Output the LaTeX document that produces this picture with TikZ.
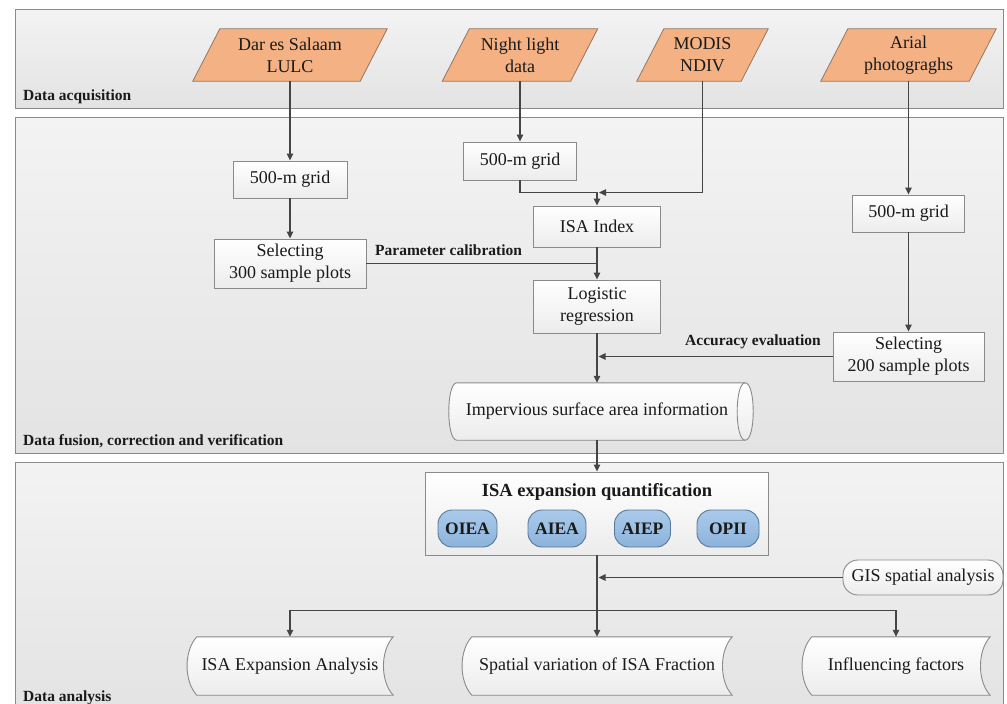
\documentclass[tikz,border=0pt]{standalone}
\usepackage{fontspec}
\setmainfont{Liberation Serif}
\usetikzlibrary{arrows.meta,calc}
\pgfdeclarelayer{bands}\pgfdeclarelayer{shapes}
\pgfsetlayers{bands,shapes,main}
\definecolor{bandtop}{HTML}{F3F3F3}
\definecolor{bandbot}{HTML}{E3E3E3}
\definecolor{bordergray}{HTML}{8A8A8A}
\definecolor{linegray}{HTML}{454545}
\definecolor{orangefill}{HTML}{F4B183}
\definecolor{orangeline}{HTML}{937661}
\definecolor{bluetop}{HTML}{AACAEA}
\definecolor{bluebot}{HTML}{8DB3DB}
\definecolor{blueline}{HTML}{56789A}
\definecolor{boxbot}{HTML}{ECECEC}
\definecolor{inkc}{HTML}{1A1A1A}
\tikzset{
  band/.style={draw=bordergray, line width=1pt, top color=bandtop, bottom color=bandbot},
  bandlabel/.style={font=\fontsize{15.5}{18}\selectfont\bfseries, anchor=west, inner sep=0pt, text=inkc},
  txt/.style={font=\fontsize{18}{22}\selectfont, align=center, text=inkc, inner sep=0pt},
  box/.style={txt, draw=bordergray, line width=0.9pt, top color=white, bottom color=boxbot},
  paranode/.style={txt},
  parashape/.style={draw=orangeline, line width=0.8pt, fill=orangefill},
  softshape/.style={draw=bordergray, line width=0.9pt, top color=white, bottom color=boxbot},
  pill/.style={draw=blueline, line width=0.9pt, top color=bluetop, bottom color=bluebot, rounded corners=14pt,
    font=\fontsize{17.5}{20}\selectfont\bfseries, text=inkc, minimum height=37pt, inner sep=0pt},
  gispill/.style={txt, draw=bordergray, line width=0.9pt, top color=white, bottom color=boxbot, rounded corners=15pt},
  lbl/.style={font=\fontsize{15.5}{18}\selectfont\bfseries, text=inkc, inner sep=0pt},
  ln/.style={draw=linegray, line width=1.1pt},
  arr/.style={ln, -{Triangle[length=7pt,width=6.5pt]}},
}
\newcommand\drawpara[1]{%
  \begin{pgfonlayer}{shapes}
  \draw[parashape] ($(#1.north west)+(13.5,0)$) -- ($(#1.north east)+(13.5,0)$) --
     ($(#1.south east)+(-13.5,0)$) -- ($(#1.south west)+(-13.5,0)$) -- cycle;
  \end{pgfonlayer}}
\newcommand\drawstored[1]{%
  \begin{pgfonlayer}{shapes}
  \draw[softshape] ($(#1.north west)+(5,0)$) -- ($(#1.north east)+(5,0)$)
     .. controls ($(#1.north east)+(-8,14)$) and ($(#1.south east)+(-8,-14)$) .. ($(#1.south east)+(5,0)$)
     -- ($(#1.south west)+(5,0)$)
     .. controls ($(#1.south west)+(-8,-14)$) and ($(#1.north west)+(-8,14)$) .. ($(#1.north west)+(5,0)$) -- cycle;
  \end{pgfonlayer}}
\begin{document}
\begin{tikzpicture}[x=1pt,y=-1pt]
\useasboundingbox (0,0) rectangle (1007,704);
\begin{pgfonlayer}{bands}
  \draw[band] (15,9) rectangle (1003,108);
  \draw[band] (15,117) rectangle (1003,453);
  \draw[band] (15,462) rectangle (1003,712);
\end{pgfonlayer}
\node[bandlabel] (l1) at (23,97) {Data acquisition};
\node[bandlabel] (l2) at (23,441) {Data fusion, correction and verification};
\node[bandlabel] (l3) at (23,698) {Data analysis};

% inputs
\node[paranode, minimum width=167pt, minimum height=52pt] (dar) at (290,55) {Dar es Salaam\\LULC};
\node[paranode, minimum width=128pt, minimum height=52pt] (night) at (520,55) {Night light\\data};
\node[paranode, minimum width=104pt, minimum height=52pt] (modis) at (702.5,55) {MODIS\\NDIV};
\node[paranode, minimum width=148pt, minimum height=52pt] (arial) at (908.5,55) {Arial\\photograghs};
\drawpara{dar}\drawpara{night}\drawpara{modis}\drawpara{arial}

% fusion band
\node[box, minimum width=114pt, minimum height=37pt] (g1) at (290,179.5) {500-m grid};
\node[box, minimum width=152pt, minimum height=49pt] (s300) at (290,263.5) {Selecting\\300 sample plots};
\node[box, minimum width=113pt, minimum height=38pt] (g2) at (520,161) {500-m grid};
\node[box, minimum width=127pt, minimum height=41pt] (isa) at (597,226.5) {ISA Index};
\node[box, minimum width=127pt, minimum height=53pt] (logit) at (597,306.5) {Logistic\\regression};
\node[box, minimum width=112pt, minimum height=37pt] (g3) at (908.5,213.5) {500-m grid};
\node[box, minimum width=151pt, minimum height=49pt] (s200) at (908.5,356.5) {Selecting\\200 sample plots};

\node[txt, minimum width=296pt, minimum height=57pt] (imp) at (597,411.5) {Impervious surface area information};
\begin{pgfonlayer}{shapes}
  \draw[softshape] ($(imp.north west)+(8,0)$) -- (imp.north east)
     .. controls ($(imp.north east)+(10.7,0)$) and ($(imp.south east)+(10.7,0)$) .. (imp.south east)
     -- ($(imp.south west)+(8,0)$)
     .. controls ($(imp.south west)+(-2.7,0)$) and ($(imp.north west)+(-2.7,0)$) .. ($(imp.north west)+(8,0)$) -- cycle;
  \draw[draw=bordergray, line width=0.9pt] (imp.north east)
     .. controls ($(imp.north east)+(-10.7,0)$) and ($(imp.south east)+(-10.7,0)$) .. (imp.south east);
\end{pgfonlayer}

\node[lbl, anchor=west] (pc) at (375,250) {Parameter calibration};
\node[lbl, anchor=east] (ae) at (821,342) {Accuracy evaluation};

% analysis band
\node[box, minimum width=343pt, minimum height=83pt] (isaq) at (597,513.5) {};
\node[txt, font=\fontsize{18.5}{22}\selectfont\bfseries] (isaqt) at (597,492) {ISA expansion quantification};
\node[pill, minimum width=59pt] (oiea) at (467.5,528.5) {OIEA};
\node[pill, minimum width=58pt] (aiea) at (557,528.5) {AIEA};
\node[pill, minimum width=56pt] (aiep) at (642.5,528.5) {AIEP};
\node[pill, minimum width=62pt] (opii) at (728,528.5) {OPII};

\node[gispill, minimum width=160pt, minimum height=35pt] (gis) at (923,577.5) {GIS spatial analysis};

\node[txt, minimum width=196pt, minimum height=58pt] (ea) at (290,666) {ISA Expansion Analysis};
\node[txt, minimum width=260pt, minimum height=58pt] (sv) at (597,666) {Spatial variation of ISA Fraction};
\node[txt, minimum width=178pt, minimum height=58pt] (inf) at (896,666) {Influencing factors};
\drawstored{ea}\drawstored{sv}\drawstored{inf}

% connectors
\draw[arr] (dar.south) -- (g1.north);
\draw[arr] (g1.south) -- (s300.north);
\draw[arr] (night.south) -- (g2.north);
\coordinate (jisa) at ($(isa.north)+(0,-13)$);
\draw[arr] (g2.south) |- (jisa) -- (isa.north);
\coordinate (jmod) at ($(isa.north)+(2,-13)$);
\draw[arr] (modis.south) |- (jmod);
\draw[ln] (s300.east) -- (s300.east -| isa.south);
\draw[arr] (isa.south) -- (logit.north);
\draw[arr] (arial.south) -- (g3.north);
\draw[arr] (g3.south) -- (s200.north);
\coordinate (jacc) at ($(s200.west -| logit.south)+(1.5,0)$);
\draw[arr] (s200.west) -- (jacc);
\draw[arr] (logit.south) -- (imp.north);
\draw[arr] (imp.south) -- (isaq.north);
\coordinate (split) at ($(isaq.south)+(0,55)$);
\draw[ln] (isaq.south) -- (split);
\coordinate (jgis) at ($(gis.west -| isaq.south)+(1.5,0)$);
\draw[arr] (gis.west) -- (jgis);
\draw[arr] (split) -| (ea.north);
\draw[arr] (split) -- (sv.north);
\draw[arr] (split) -| (inf.north);
\end{tikzpicture}
\end{document}
